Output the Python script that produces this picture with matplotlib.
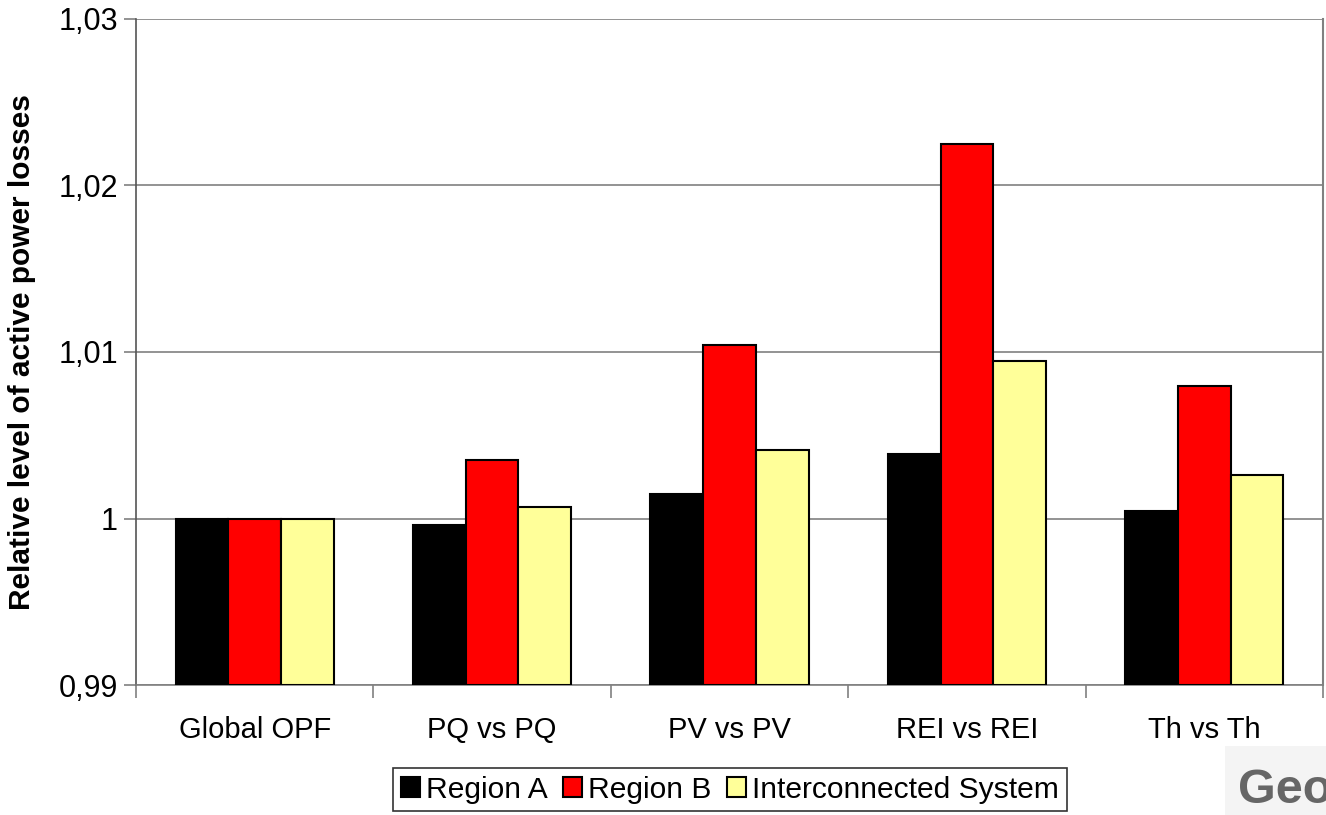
#!/usr/bin/env python3

import numpy as np
import matplotlib
matplotlib.use('Agg')
from matplotlib import pyplot as plt
import matplotlib.ticker as mticker
from matplotlib.patches import Rectangle


CATEGORIES = ['Global OPF', 'PQ vs PQ', 'PV vs PV', 'REI vs REI', 'Th vs Th']
REGION_A = [1.0, 0.99958, 1.00150, 1.00390, 1.00048]
REGION_B = [1.0, 1.00354, 1.01045, 1.02252, 1.00793]
INTERCONNECTED = [1.0, 1.00072, 1.00414, 1.00943, 1.00264]

SERIES_NAMES = ['Region A', 'Region B', 'Interconnected System']
COLORS = ['#000000', '#ff0000', '#ffff99']

YTICKS = [0.99, 1.0, 1.01, 1.02, 1.03]

plt.rcParams['font.family'] = ['Liberation Sans', 'DejaVu Sans']

fig = plt.figure(figsize=(13.26, 8.15), dpi=100)
ax = fig.add_axes([0.1026, 0.1595, 0.8951, 0.8172])

x = np.arange(len(CATEGORIES))
width = 1 / 4.5
series = [REGION_A, REGION_B, INTERCONNECTED]
for i, (vals, name, col) in enumerate(zip(series, SERIES_NAMES, COLORS)):
    ax.bar(x + (i - 1) * width, np.array(vals) - 0.99, width, bottom=0.99,
           color=col, edgecolor='black', linewidth=1.5, label=name, zorder=3)

ax.set_xlim(-0.5, len(CATEGORIES) - 0.5)
ax.set_ylim(0.99, 1.03)
ax.set_yticks(YTICKS)

def formatter(v, p):
    s = ('%.2f' % v).rstrip('0').rstrip('.')
    return s.replace('.', ',')

ax.yaxis.set_major_formatter(mticker.FuncFormatter(formatter))
ax.yaxis.grid(True, color='#808080', linewidth=1.2, zorder=0)

ax.set_xticks(x)
ax.set_xticklabels(CATEGORIES)
ax.set_xticks(np.arange(len(CATEGORIES) + 1) - 0.5, minor=True)
ax.tick_params(axis='x', which='major', length=0, pad=22, labelsize=21)
ax.tick_params(axis='x', which='minor', length=9, width=1.2, color='#808080')
ax.tick_params(axis='y', length=9, width=1.2, color='#808080', labelsize=22, pad=4)

ax.spines['top'].set_visible(False)
ax.spines['left'].set_color('#555555')
ax.spines['left'].set_linewidth(1.2)
ax.spines['bottom'].set_color('#808080')
ax.spines['bottom'].set_linewidth(1.2)
ax.spines['right'].set_color('#808080')
ax.spines['right'].set_linewidth(1.5)

ax.set_ylabel('Relative level of active power losses', fontsize=21.5,
              fontweight='bold', labelpad=16)

leg = fig.legend(loc='center', bbox_to_anchor=(0.5505, 0.0307), ncol=3,
                 frameon=True, fancybox=False, edgecolor='black',
                 handlelength=0.65, handleheight=0.65, handletextpad=0.2,
                 columnspacing=0.5, borderpad=0.25,
                 prop={'family': ['Liberation Sans Narrow', 'Liberation Sans'],
                       'size': 21.6})
leg.get_frame().set_linewidth(1.2)

# partial logo watermark at bottom right
fig.patches.append(Rectangle((0.924, 0.0), 0.08, 0.085, transform=fig.transFigure,
                             facecolor='#f4f4f4', edgecolor='none'))
fig.text(0.9335, 0.0145, 'Geo', fontsize=35, fontweight='bold', color='#666666')

fig.savefig('out.png', dpi=100)
